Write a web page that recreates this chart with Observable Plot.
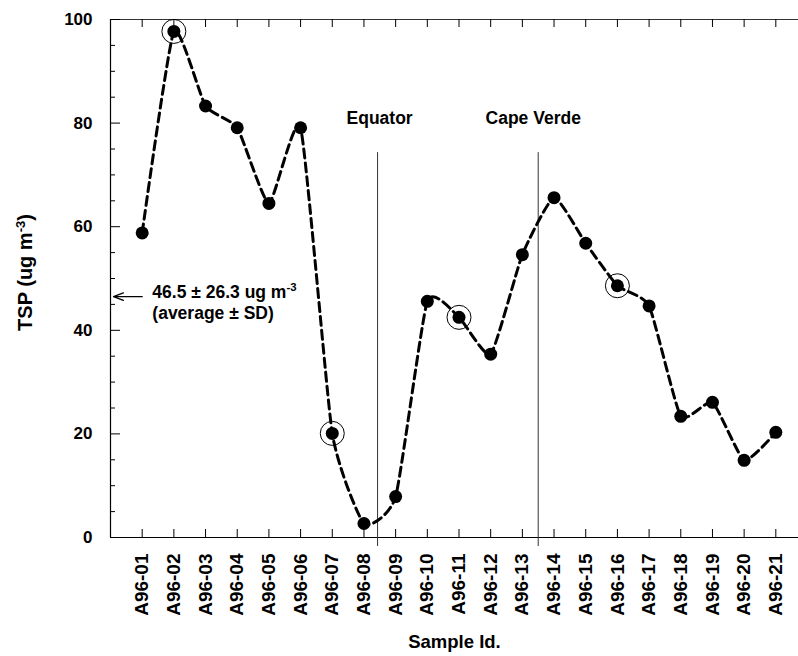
<!DOCTYPE html>
<html>
<head>
<meta charset="utf-8">
<script src="https://cdn.jsdelivr.net/npm/d3@7"></script>
<script src="https://cdn.jsdelivr.net/npm/@observablehq/plot@0.6"></script>
<style>
  html, body { margin: 0; padding: 0; background: white; overflow: hidden; }
</style>
</head>
<body>
<div id="chart"></div>
<script>
// Sample identifiers along the cruise track
const samples = ["A96-01","A96-02","A96-03","A96-04","A96-05","A96-06","A96-07",
  "A96-08","A96-09","A96-10","A96-11","A96-12","A96-13","A96-14","A96-15",
  "A96-16","A96-17","A96-18","A96-19","A96-20","A96-21"];
// Total suspended particulates (ug m-3)
const tsp = [58.8, 97.7, 83.3, 79.1, 64.5, 79.1, 20.1, 2.7, 7.9, 45.6, 42.5,
  35.4, 54.6, 65.6, 56.8, 48.6, 44.7, 23.4, 26.1, 14.9, 20.3];
// Samples highlighted with an open ring
const circled = ["A96-02", "A96-07", "A96-11", "A96-16"];
// Reference locations (position along the sample sequence)
const sites = ["Equator", "Cape Verde"];
const sitePos = [8.43, 13.5];
// Summary statistics
const meanTsp = 46.5;
const sdTsp = 26.3;
// Axis ticks
const yTicks = [0, 20, 40, 60, 80, 100];
const yMinorTicks = [5, 10, 15, 25, 30, 35, 45, 50, 55, 65, 70, 75, 85, 90, 95];

const rows = samples.map((id, i) => ({id, pos: i + 1, tsp: tsp[i]}));
const ringed = rows.filter(d => circled.includes(d.id));
const positions = rows.map(d => d.pos);

const font = "'Liberation Sans', Arial, Helvetica, sans-serif";
const yLabel = "TSP (ug m";
const meanLabel = `${meanTsp} ± ${sdTsp} ug m`;

const chart = Plot.plot({
  width: 798,
  height: 656,
  marginLeft: 110,
  marginTop: 19,
  marginBottom: 119,
  marginRight: 0,
  x: {domain: [0, 22], range: [110, 807]},
  y: {domain: [0, 100]},
  style: {fontFamily: font, background: "white", overflow: "hidden", color: "black"},
  marks: [
    // frame: left axis, top and bottom lines
    Plot.ruleX([0], {y1: 0, y2: 100, stroke: "black", strokeWidth: 1.2}),
    Plot.ruleY([0], {x1: 0, x2: 22, stroke: "black", strokeWidth: 1.2}),
    Plot.ruleY([100], {x1: 0, x2: 22, stroke: "#333", strokeWidth: 1.2}),
    // inward y ticks
    Plot.ruleY(yTicks, {x1: 0, x2: 0, insetRight: -10, stroke: "black"}),
    Plot.ruleY(yMinorTicks, {x1: 0, x2: 0, insetRight: -5, stroke: "black"}),
    // x ticks on bottom and top
    Plot.ruleX(positions, {y1: 0, y2: 0, insetTop: -8, stroke: "black"}),
    Plot.ruleX(positions, {y1: 100, y2: 100, insetBottom: -8, stroke: "black"}),
    // tick labels
    Plot.axisY(yTicks, {tickSize: 0, tickPadding: 18, fontSize: 17, fontWeight: "bold", label: null}),
    Plot.axisX(positions, {
      tickSize: 0, tickPadding: 16, tickRotate: -90,
      tickFormat: p => samples[p - 1],
      fontSize: 19, fontWeight: "bold", label: null
    }),
    // site markers
    Plot.ruleX(sitePos, {y1: 74.3, y2: 0, insetBottom: -9, stroke: "#333", strokeWidth: 1}),
    Plot.text([sites[0]], {x: sitePos[0], y: 81, dx: 2, fontSize: 17.5, fontWeight: "bold"}),
    Plot.text([sites[1]], {x: sitePos[1], y: 81, dx: -5, fontSize: 17.5, fontWeight: "bold"}),
    // mean annotation
    Plot.arrow([meanTsp], {
      x1: 1, x2: 0, y1: d => d, y2: d => d, insetEnd: 3,
      headLength: 14, headAngle: 42, stroke: "black", strokeWidth: 1.3
    }),
    Plot.text([meanLabel], {x: 1.32, y: meanTsp, dy: -4, textAnchor: "start", fontSize: 17.5, fontWeight: "bold"}),
    Plot.text(["(average ± SD)"], {x: 1.32, y: meanTsp, dy: 17, textAnchor: "start", fontSize: 17.5, fontWeight: "bold"}),
    // series
    Plot.line(rows, {
      x: "pos", y: "tsp", curve: "cardinal", tension: 0.5,
      stroke: "black", strokeWidth: 3, strokeDasharray: "9,5"
    }),
    Plot.dot(rows, {x: "pos", y: "tsp", r: 6.5, fill: "black", stroke: "none"}),
    Plot.dot(ringed, {x: "pos", y: "tsp", r: 12, fill: "none", stroke: "black", strokeWidth: 1}),
    // axis titles
    Plot.text([yLabel], {frameAnchor: "left", textAnchor: "middle", dx: -85, dy: -6, rotate: -90, fontSize: 20, fontWeight: "bold"}),
    Plot.text(["Sample Id."], {frameAnchor: "bottom", dy: 110, fontSize: 18.5, fontWeight: "bold"})
  ]
});

// superscript exponent for the unit labels
chart.querySelectorAll("text").forEach(t => {
  if (t.textContent === yLabel || t.textContent === meanLabel) {
    const NS = "http://www.w3.org/2000/svg";
    const sup = document.createElementNS(NS, "tspan");
    sup.setAttribute("font-size", "0.65em");
    sup.setAttribute("dy", "-7");
    sup.textContent = "-3";
    t.appendChild(sup);
    if (t.textContent.startsWith("TSP")) {
      const close = document.createElementNS(NS, "tspan");
      close.setAttribute("dy", "7");
      close.textContent = ")";
      t.appendChild(close);
    }
  }
});

document.getElementById("chart").appendChild(chart);
</script>
</body>
</html>
